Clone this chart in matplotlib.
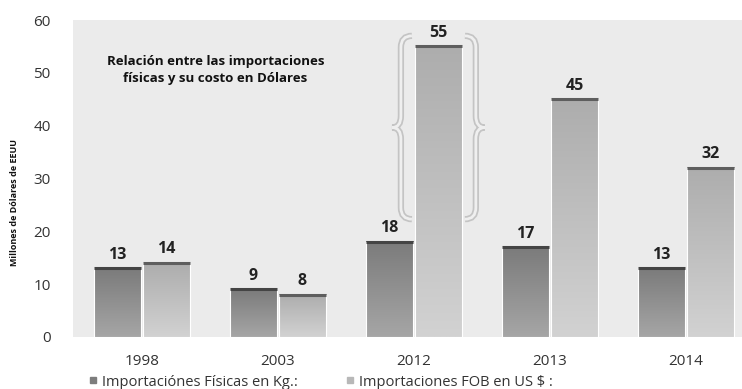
import numpy as np
import matplotlib.pyplot as plt
from matplotlib.colors import LinearSegmentedColormap
from matplotlib.lines import Line2D
from matplotlib.path import Path
from matplotlib.patches import PathPatch

plt.rcParams['font.family'] = ['Open Sans', 'DejaVu Sans']

# data
years = ['1998', '2003', '2012', '2013', '2014']
fisicas_kg = [13, 9, 18, 17, 13]
fob_usd = [14, 8, 55, 45, 32]
legend_labels = ['Importaciónes Físicas en Kg.:', 'Importaciones FOB en US $ :']

fig = plt.figure(figsize=(7.42, 3.89), dpi=100)
ax = fig.add_axes([73 / 742, 52 / 389, 669 / 742, 317 / 389])
ax.set_facecolor('#ebebeb')

x = np.arange(len(years))
width = 0.35
off = 0.18

bars1 = ax.bar(x - off, fisicas_kg, width, color='none', edgecolor='white', linewidth=0.8, zorder=3)
bars2 = ax.bar(x + off, fob_usd, width, color='none', edgecolor='white', linewidth=0.8, zorder=3)

dark = LinearSegmentedColormap.from_list('dark', ['#a6a6a6', '#7b7b7b'])
light = LinearSegmentedColormap.from_list('light', ['#d2d2d2', '#adadad'])
grad = np.linspace(0, 1, 256).reshape(-1, 1)

def shade(bars, cmap, cap):
    for r in bars:
        x0, w, h = r.get_x(), r.get_width(), r.get_height()
        ax.imshow(grad, extent=[x0, x0 + w, 0, h], origin='lower', aspect='auto',
                  cmap=cmap, zorder=2, interpolation='bilinear')
        ax.plot([x0, x0 + w], [h, h], color=cap, lw=2.2, solid_capstyle='butt', zorder=4)
        ax.annotate(str(int(h)), (x0 + w / 2, h), xytext=(0, 4), textcoords='offset points',
                    ha='center', va='bottom', fontsize=11.5, fontweight='bold', color='#222222')

shade(bars1, dark, '#444444')
shade(bars2, light, '#5e5e5e')

ax.set_xlim(-0.507, 4.412)
ax.set_ylim(0, 60)
ax.set_yticks(range(0, 61, 10))
ax.set_xticks(x)
ax.set_xticklabels(years)
ax.tick_params(length=0, labelsize=11, colors='#333333')
ax.tick_params(axis='x', pad=12)
ax.tick_params(axis='y', pad=16)
for s in ax.spines.values():
    s.set_visible(False)

# curly braces around the 2012 FOB bar
def brace(xv, xt, xe, y0, y1, r=2.2):
    ym = (y0 + y1) / 2
    verts = [(xe, y1), (xv, y1), (xv, y1 - r),
             (xv, ym + r), (xv, ym), (xt, ym),
             (xv, ym), (xv, ym - r),
             (xv, y0 + r), (xv, y0), (xe, y0)]
    codes = [Path.MOVETO, Path.CURVE3, Path.CURVE3,
             Path.LINETO, Path.CURVE3, Path.CURVE3,
             Path.CURVE3, Path.CURVE3,
             Path.LINETO, Path.CURVE3, Path.CURVE3]
    p = Path(verts, codes)
    ax.add_patch(PathPatch(p, fill=False, edgecolor='#c4c4c4', lw=4.5, zorder=2.5))
    ax.add_patch(PathPatch(p, fill=False, edgecolor='#efefef', lw=2, zorder=2.6))

brace(1.904, 1.84, 1.985, 22.3, 57.0)
brace(2.455, 2.52, 2.375, 22.3, 57.0)

ax.text(0.54, 50.5, 'Relación entre las importaciones\nfísicas y su costo en Dólares',
        ha='center', va='center', fontsize=9.5, fontweight='bold', linespacing=1.35,
        color='#111111')

fig.text(15 / 742, 1 - 202 / 389, 'Millones de Dólares de EEUU', rotation=90,
         ha='center', va='center', fontsize=6.5, fontweight='bold', color='#111111')

handles = [Line2D([], [], marker='s', ls='none', color='#7d7d7d', markersize=4.5),
           Line2D([], [], marker='s', ls='none', color='#b8b8b8', markersize=4.5)]
fig.legend(handles, legend_labels, loc='center left', bbox_to_anchor=(80 / 742, 7 / 389),
           ncol=2, frameon=False, fontsize=10.5, handletextpad=0.2, columnspacing=3.2,
           handlelength=0.8, borderpad=0, labelcolor='#333333')

fig.savefig('out.png', dpi=100)
